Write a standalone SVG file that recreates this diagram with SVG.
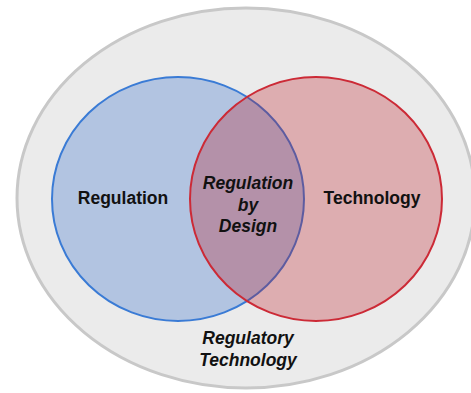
<svg xmlns="http://www.w3.org/2000/svg" width="471" height="393" viewBox="0 0 471 393">
<style>
text{font-family:"Liberation Sans",Arial,sans-serif;font-weight:bold;font-size:17.5px;fill:#111;text-anchor:middle}
.it{font-style:italic}
</style>
<rect width="471" height="393" fill="#fff"/>
<g id="regtech">
<ellipse cx="246" cy="198" rx="229" ry="190" fill="#ebebeb" stroke="#c8c8c8" stroke-width="3"/>
<text class="it" x="248" y="344">Regulatory</text>
<text class="it" x="248" y="366">Technology</text>
</g>
<g id="regulation">
<ellipse cx="178" cy="199" rx="126" ry="122" fill="#b2c4e1" stroke="#3a7bd5" stroke-width="2"/>
<text x="123" y="204">Regulation</text>
</g>
<g id="technology">
<ellipse cx="316" cy="199" rx="126" ry="122" fill="rgb(188,14,26)" fill-opacity="0.28" stroke="#cc2a36" stroke-width="2"/>
<text x="372" y="204">Technology</text>
</g>
<g id="design">
<text class="it" x="248" y="189">Regulation</text>
<text class="it" x="248" y="211">by</text>
<text class="it" x="248" y="232">Design</text>
</g>
<g id="connectors"/>
</svg>
